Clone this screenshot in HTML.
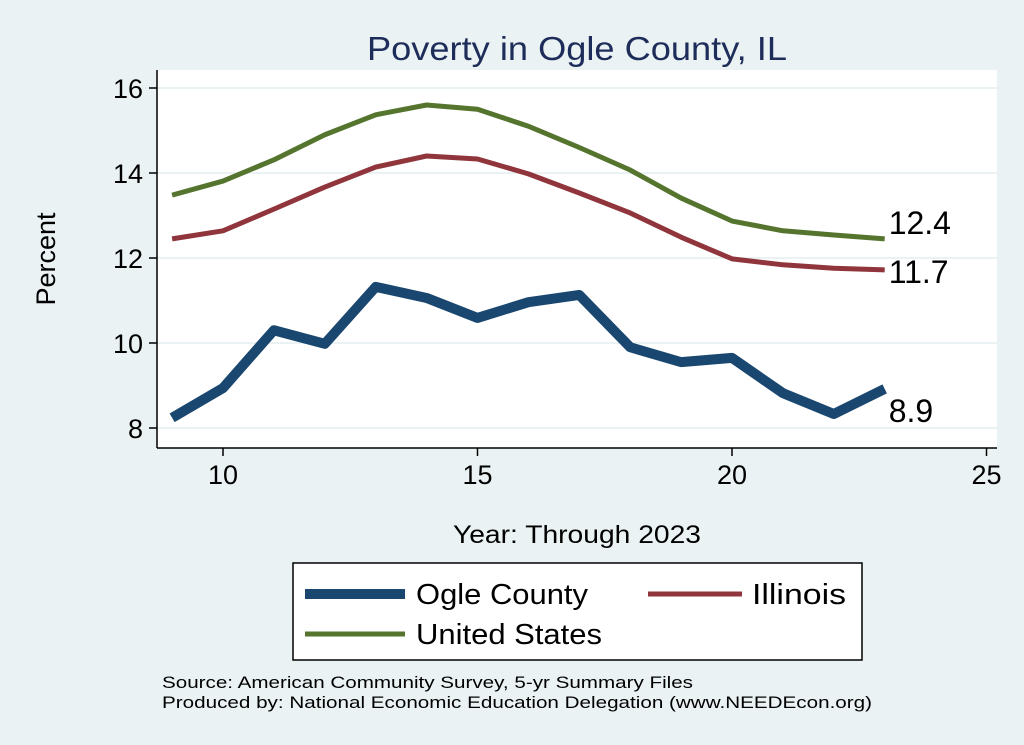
<!DOCTYPE html>
<html><head><meta charset="utf-8"><style>
body{margin:0;background:#eaf2f3;}
svg{display:block;font-family:"Liberation Sans",sans-serif;}
</style></head><body>
<svg id="c" width="1024" height="745">
<rect x="0" y="0" width="1024" height="745" fill="#eaf2f3"/>
<rect x="157" y="70" width="840" height="378" fill="#ffffff"/>
<text x="367" y="60" font-size="33" fill="#1e2c5a" textLength="420" lengthAdjust="spacingAndGlyphs">Poverty in Ogle County, IL</text>
<text transform="translate(55,259) rotate(-90)" font-size="27" text-anchor="middle" fill="#000">Percent</text>
<text x="453" y="543" font-size="25" textLength="248" lengthAdjust="spacingAndGlyphs" fill="#000">Year: Through 2023</text>
<g id="grid"></g><g id="axes"></g><g id="series"></g>
<g>
<rect x="293" y="563" width="569" height="97" fill="#fff" stroke="#000" stroke-width="1.5"/>
<line x1="305" y1="594" x2="405" y2="594" stroke="#1a476f" stroke-width="10"/>
<text x="416" y="604" font-size="29" textLength="172" lengthAdjust="spacingAndGlyphs">Ogle County</text>
<line x1="648" y1="594" x2="742" y2="594" stroke="#90353b" stroke-width="5"/>
<text x="752" y="604" font-size="29" textLength="94" lengthAdjust="spacingAndGlyphs">Illinois</text>
<line x1="305" y1="634" x2="405" y2="634" stroke="#55752f" stroke-width="5"/>
<text x="416" y="644" font-size="29" textLength="186" lengthAdjust="spacingAndGlyphs">United States</text>
</g>
<text x="162" y="688" font-size="17" textLength="531" lengthAdjust="spacingAndGlyphs">Source: American Community Survey, 5-yr Summary Files</text>
<text x="162" y="708" font-size="17" textLength="710" lengthAdjust="spacingAndGlyphs">Produced by: National Economic Education Delegation (www.NEEDEcon.org)</text>
</svg>
<script>
const years=[9,10,11,12,13,14,15,16,17,18,19,20,21,22,23];
const ogle=[8.24,8.94,10.3,9.98,11.32,11.06,10.59,10.96,11.13,9.9,9.55,9.65,8.82,8.33,8.92];
const illinois=[12.45,12.64,13.15,13.67,14.14,14.4,14.33,13.98,13.53,13.06,12.49,11.98,11.84,11.76,11.72];
const us=[13.48,13.81,14.31,14.9,15.37,15.6,15.5,15.1,14.6,14.07,13.41,12.87,12.64,12.54,12.45];
const xTicks=[10,15,20,25];
const yTicks=[8,10,12,14,16];
const labels=["8.9","11.7","12.4"];
const NS="http://www.w3.org/2000/svg";
const X=v=>223+(v-10)*50.9;
const Y=v=>428-(v-8)*42.5;
function mk(tag,attrs,parent){const e=document.createElementNS(NS,tag);for(const k in attrs)e.setAttribute(k,attrs[k]);parent.appendChild(e);return e;}
const grid=document.getElementById('grid'),axes=document.getElementById('axes'),ser=document.getElementById('series');
mk('line',{x1:157,y1:70,x2:157,y2:448,stroke:'#000','stroke-width':1.5},axes);
mk('line',{x1:157,y1:448,x2:997,y2:448,stroke:'#000','stroke-width':1.5},axes);
yTicks.forEach(t=>{
 const g=mk('line',{x1:157,y1:Y(t),x2:997,y2:Y(t),stroke:'#eaf2f3','stroke-width':2},grid);
 
 
 mk('line',{x1:149,y1:Y(t),x2:157,y2:Y(t),stroke:'#000','stroke-width':1.5},axes);
 const tx=mk('text',{x:143,y:Y(t)+10,'font-size':27,'text-anchor':'end'},axes);
 tx.textContent=t;
 
 
});
xTicks.forEach(t=>{
 mk('line',{x1:X(t),y1:448,x2:X(t),y2:456,stroke:'#000','stroke-width':1.5},axes);
 const tx=mk('text',{x:X(t),y:484,'font-size':27,'text-anchor':'middle'},axes);
 tx.textContent=t;
 
 
});
function line(vals,color,w,name){
 const p=mk('polyline',{points:vals.map((v,i)=>X(years[i])+','+Y(v)).join(' '),fill:'none',stroke:color,'stroke-width':w,'stroke-linejoin':'round'},ser);
 
 
}
line(us,'#55752f',5,'line-united-states');
line(illinois,'#90353b',5,'line-illinois');
line(ogle,'#1a476f',10,'line-ogle-county');
const last=years.length-1;
[[ogle,0,33],[illinois,1,13],[us,2,-5]].forEach(([s,i,dy])=>{
 const t=mk('text',{x:X(years[last])+4,y:Y(s[last])+dy,'font-size':32},ser);
 t.textContent=labels[i];
 
 
});
</script>
</body></html>
